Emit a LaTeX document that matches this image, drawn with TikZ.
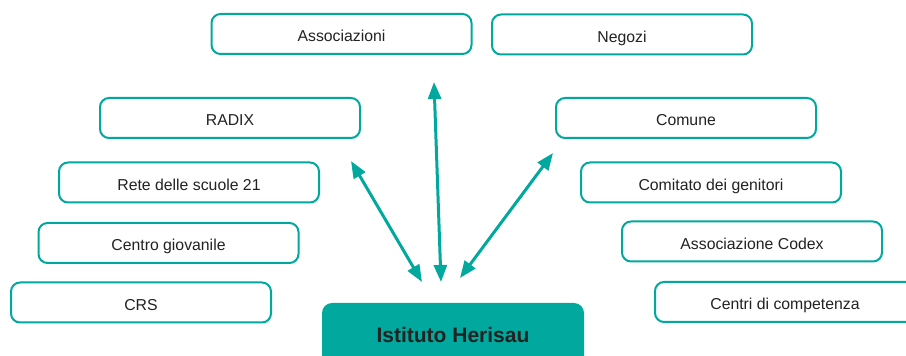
\documentclass[tikz,border=0pt]{standalone}
\usepackage{fontspec}
\setmainfont{Liberation Sans}
\usepackage{tikz}
\usetikzlibrary{arrows.meta}

\definecolor{teal}{RGB}{0,168,158}
\definecolor{textgray}{RGB}{34,34,34}

\begin{document}
\begin{tikzpicture}[x=1pt, y=1pt,
        partner/.style={draw=teal, line width=2pt, rounded corners=9pt, fill=white,
            minimum width=260pt, minimum height=40pt, inner sep=0pt,
            text height=16pt, text depth=0pt,
            text=textgray, font=\fontsize{15.8}{19}\selectfont},
        hub/.style={fill=teal, rounded corners=10pt, minimum width=262pt, minimum height=64pt,
            inner sep=0pt, text=textgray, font=\fontsize{21}{25}\selectfont\bfseries},
        link/.style={draw=teal, line width=3pt, {Triangle[length=17pt,width=13pt]}-{Triangle[length=17pt,width=13pt]}}]
        \useasboundingbox (0,0) rectangle (906,356);

        \node[partner] (assoc) at (341.5, 322) {Associazioni};
        \node[partner] (negozi) at (622, 321.5) {Negozi};
        \node[partner] (radix) at (230, 238) {RADIX};
        \node[partner] (comune) at (686, 238) {Comune};
        \node[partner] (rete) at (189, 173.5) {Rete delle scuole 21};
        \node[partner] (comitato) at (711, 173.5) {Comitato dei genitori};
        \node[partner] (giovani) at (168.5, 113) {Centro giovanile};
        \node[partner] (codex) at (752, 114.5) {Associazione Codex};
        \node[partner] (crs) at (141, 53.5) {CRS};
        \node[partner] (centri) at (785, 54) {Centri di competenza};

        \node[hub] (istituto) at (453, 21) {Istituto Herisau};

        \coordinate (upA) at (441, 74);
        \coordinate (upB) at (434, 274);
        \coordinate (leftA) at (422, 74);
        \coordinate (leftB) at (351, 195);
        \coordinate (rightA) at (460, 78);
        \coordinate (rightB) at (553, 203);

        \draw[link] (leftA) -- (leftB);
        \draw[link] (upA) -- (upB);
        \draw[link] (rightA) -- (rightB);
    \end{tikzpicture}
\end{document}
